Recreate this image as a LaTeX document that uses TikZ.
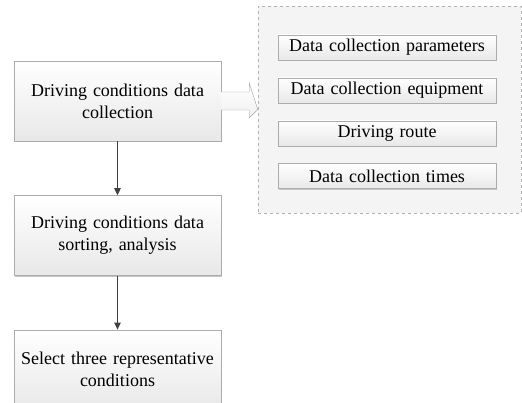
\documentclass[tikz,border=0pt]{standalone}
\usepackage{fontspec}
\setmainfont{Liberation Serif}
\usepackage{tikz}
\usetikzlibrary{arrows.meta,positioning,shadows,calc}
\tikzset{
    stagebox/.style = {
        align=center,
        text centered,
        rectangle,
        draw=gray!65,
        top color=white,
        bottom color=gray!18,
        drop shadow={shadow xshift=1.2pt, shadow yshift=-1.2pt, fill=gray!45, opacity=1},
        minimum width=207pt,
        minimum height=80pt,
        text width=204pt,
        inner sep=0pt,
        font=\fontsize{18}{22}\selectfont
    },
    itembox/.style = {
        stagebox,
        minimum width=218pt,
        minimum height=25pt,
        text width=216pt,
        font=\fontsize{18}{20}\selectfont
    },
    panelbox/.style = {
        rectangle,
        draw=gray!60,
        dashed,
        fill=gray!9,
        minimum width=263pt,
        minimum height=207pt,
        inner sep=0pt
    },
    flowline/.style = {
        draw=black!75,
        line width=0.9pt,
        -{Triangle[width=6.5pt,length=7pt]}
    }
}

\begin{document}
\begin{tikzpicture}[x=1pt,y=1pt,node distance=54pt]
    \useasboundingbox (0,0) rectangle (522,403);
    % right-hand panel
    \node [panelbox] (panel) at (389.5,293.5) {};
    \node [itembox] (param) at (387,355.5) {Data collection parameters};
    \node [itembox, below=17.5pt of param] (equip) {Data collection equipment};
    \node [itembox, below=17.5pt of equip] (route) {Driving route};
    \node [itembox, below=17.5pt of route] (times) {Data collection times};
    % main column
    \node [stagebox] (collect) at (117.5,302) {Driving conditions data\\collection};
    \node [stagebox, below=of collect] (sort) {Driving conditions data\\sorting, analysis};
    \node [stagebox, below=of sort] (select) {Select three representative\\conditions};
    \draw [flowline] (collect) -- (sort);
    \draw [flowline] (sort) -- (select);
    % hollow arrow into the panel
    \draw [draw=gray!75, top color=white, bottom color=gray!12]
        ($(collect.east)+(0,9)$) -- ($(collect.east)+(28,9)$) -- ($(collect.east)+(28,18)$)
        -- (panel.west) -- ($(collect.east)+(28,-17)$) -- ($(collect.east)+(28,-9)$)
        -- ($(collect.east)+(0,-9)$);
\end{tikzpicture}
\end{document}
